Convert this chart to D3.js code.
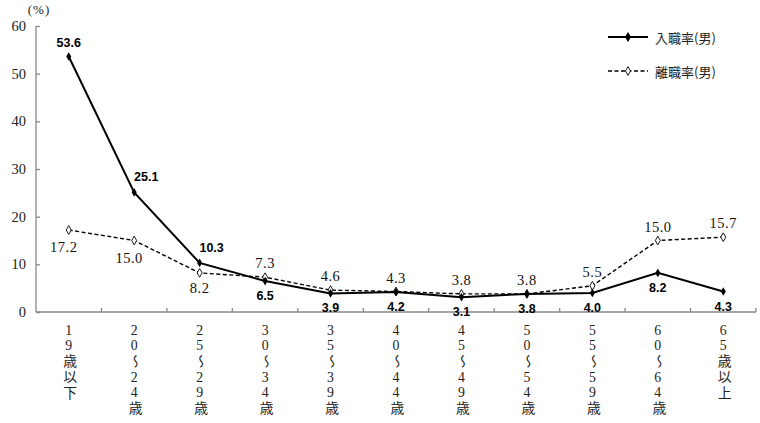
<!DOCTYPE html>
<html><head><meta charset="utf-8">
<script src="https://cdn.jsdelivr.net/npm/d3@7"></script>
<style>body{margin:0;background:#fff}svg{display:block}</style>
</head><body>
<svg id="c" width="760" height="423"></svg>
<script>
const categories = ["19歳以下","20～24歳","25～29歳","30～34歳","35～39歳","40～44歳","45～49歳","50～54歳","55～59歳","60～64歳","65歳以上"];
const nyushoku = [53.6,25.1,10.3,6.5,3.9,4.2,3.1,3.8,4.0,8.2,4.3];
const rishoku  = [17.2,15.0,8.2,7.3,4.6,4.3,3.8,3.8,5.5,15.0,15.7];
const yTicks = [0,10,20,30,40,50,60];
const seriesNames = ["入職率(男)","離職率(男)"];
const nyuPos = ["above","aboveRight","aboveRight","below","below","below","below","below","below","below","below"];
const riPos  = ["belowLeft","belowLeft","below","above","above","above","above","above","above","above","above"];

const svg = d3.select("#c");
const serif = "'Liberation Serif','DejaVu Serif',serif";
const sans = "'Liberation Sans',Arial,sans-serif";
const cjk = "'Noto Sans CJK JP',sans-serif";

const x = d3.scaleBand().domain(categories).range([36,756]).padding(0);
const y = d3.scaleLinear().domain([0,60]).range([312,26]);
const cx = c => x(c) + x.bandwidth()/2;

// y axis
const yAxis = svg.append("g").attr("transform","translate(36,0)")
  .call(d3.axisLeft(y).tickValues(yTicks).tickSize(-4).tickPadding(10).tickFormat(d3.format("d")));
yAxis.select(".domain").attr("stroke","#888").attr("stroke-width",1.3).attr("d","M0,26V312");
yAxis.selectAll(".tick line").attr("stroke","#888").attr("stroke-width",1.3);
yAxis.selectAll(".tick text").attr("font-family",serif).attr("font-size",14.5).attr("fill","#222");

// x axis
const xAxis = svg.append("g").attr("transform","translate(0,312)")
  .call(d3.axisBottom(x).tickSize(0).tickFormat(""));
xAxis.select(".domain").attr("stroke","#888").attr("stroke-width",1.3).attr("d","M36,0H756");
const bounds = categories.map(c=>x(c)+x.bandwidth());
svg.append("g").selectAll("line").data(bounds).join("line")
  .attr("x1",d=>d).attr("x2",d=>d).attr("y1",312).attr("y2",308)
  .attr("stroke","#888").attr("stroke-width",1.3);

// x labels: vertical writing, per-char spacing so pitch is uniform
svg.append("g").selectAll("text").data(categories).join("text")
  .attr("x",d=>cx(d)).attr("y",323)
  .style("writing-mode","vertical-rl").style("text-orientation","upright")
  .attr("font-family","'Liberation Serif','Noto Sans CJK JP',serif")
  .attr("font-size",13.8).attr("fill","#222")
  .each(function(d){
    const t = d3.select(this);
    Array.from(d).forEach(ch=>{
      t.append("tspan").attr("letter-spacing", /[0-9]/.test(ch)?0.4:2.4).text(ch);
    });
  });

// (%)
svg.append("text").attr("x",39).attr("y",14).attr("text-anchor","middle")
  .attr("font-family",serif).attr("font-size",13).attr("letter-spacing",1).attr("fill","#222").text("(%)");

const line = d3.line().x((d,i)=>cx(categories[i])).y(d=>y(d));
const diamond = d3.symbol().type(d3.symbolDiamond).size(22);

// rishoku (dashed)
svg.append("path").datum(rishoku).attr("d",line).attr("fill","none")
  .attr("stroke","#000").attr("stroke-width",1.4).attr("stroke-dasharray","4,2.5");
svg.append("g").selectAll("path").data(rishoku).join("path")
  .attr("d",diamond).attr("transform",(d,i)=>`translate(${cx(categories[i])},${y(d)})`)
  .attr("fill","#fff").attr("stroke","#000").attr("stroke-width",0.9);

// nyushoku (solid)
svg.append("path").datum(nyushoku).attr("d",line).attr("fill","none")
  .attr("stroke","#000").attr("stroke-width",2);
svg.append("g").selectAll("path").data(nyushoku).join("path")
  .attr("d",diamond).attr("transform",(d,i)=>`translate(${cx(categories[i])},${y(d)})`)
  .attr("fill","#000");

const off = {above:[0,-14], below:[0,15], aboveRight:[12,-15], belowLeft:[-5,17]};
svg.append("g").selectAll("text").data(rishoku).join("text")
  .attr("x",(d,i)=>cx(categories[i])+off[riPos[i]][0])
  .attr("y",(d,i)=>y(d)+off[riPos[i]][1])
  .attr("text-anchor","middle").attr("dominant-baseline","central")
  .attr("font-family",serif).attr("font-size",14.5).attr("letter-spacing",0.5).attr("fill","#111")
  .text(d=>d.toFixed(1));
svg.append("g").selectAll("text").data(nyushoku).join("text")
  .attr("x",(d,i)=>cx(categories[i])+off[nyuPos[i]][0])
  .attr("y",(d,i)=>y(d)+off[nyuPos[i]][1])
  .attr("text-anchor","middle").attr("dominant-baseline","central")
  .attr("font-family",sans).attr("font-weight","bold").attr("font-size",12.5).attr("fill","#000")
  .text(d=>d.toFixed(1));

// legend
const leg = svg.append("g");
[0,1].forEach(k=>{
  const ly = 37 + k*34;
  leg.append("line").attr("x1",608).attr("x2",648).attr("y1",ly).attr("y2",ly)
    .attr("stroke","#000").attr("stroke-width",k?1.4:2).attr("stroke-dasharray",k?"4,2.5":null);
  leg.append("path").attr("d",diamond).attr("transform",`translate(628,${ly})`)
    .attr("fill",k?"#fff":"#000").attr("stroke","#000").attr("stroke-width",0.9);
  leg.append("text").attr("x",655).attr("y",ly).attr("dominant-baseline","central")
    .attr("font-family",cjk).attr("font-size",13).attr("fill","#222").text(seriesNames[k]);
});
</script>
</body></html>
